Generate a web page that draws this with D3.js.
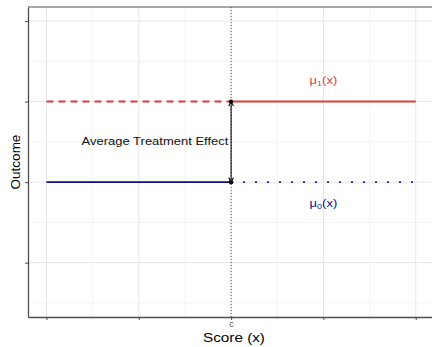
<!DOCTYPE html>
<html>
<head>
<meta charset="utf-8">
<script src="https://cdn.jsdelivr.net/npm/d3@7"></script>
<style>
  html, body { margin: 0; padding: 0; background: #fff; }
  svg { display: block; }
  text { font-family: "Liberation Sans", Arial, Helvetica, sans-serif; }
</style>
</head>
<body>
<svg id="chart" width="432" height="347"></svg>
<script>
// Regression discontinuity sketch: potential outcomes around the cutoff c
const scoreRange = [0, 1];
const cutoff = 0.5;
const scoreTicks = [0, 0.25, 0.5, 0.75, 1];
const scoreTickLabels = ["", "", "c", "", ""];
const scoreMinor = [0.125, 0.375, 0.625, 0.875];
const outcomeRange = [-0.5, 3];
const outcomeTicks = [0, 1, 2, 3];
const outcomeMinor = [-0.5, 0.5, 1.5, 2.5];
const mu1Level = 2;   // treated outcome
const mu0Level = 1;   // control outcome
const effectLabel = "Average Treatment Effect";

const W = 432, H = 347;
const panel = { left: 28, top: 7, right: 434.2, bottom: 317 };
const stretch = 1.13;

const pad = (d, f) => [d[0] - (d[1] - d[0]) * f, d[1] + (d[1] - d[0]) * f];
const x = d3.scaleLinear().domain(pad(scoreRange, 0.05)).range([panel.left, panel.right]);
const y = d3.scaleLinear().domain(pad(outcomeRange, 0.05)).range([panel.bottom, panel.top]);

const svg = d3.select("#chart");
const red = "#e03a3c", blue = "#0d0d86";

// grid
const grid = svg.append("g");
grid.selectAll(".vminor").data(scoreMinor).join("line")
  .attr("x1", d => x(d)).attr("x2", d => x(d)).attr("y1", panel.top).attr("y2", panel.bottom)
  .attr("stroke", "#f1f1f1").attr("stroke-width", 0.8);
grid.selectAll(".hminor").data(outcomeMinor).join("line")
  .attr("y1", d => y(d)).attr("y2", d => y(d)).attr("x1", panel.left).attr("x2", W)
  .attr("stroke", "#f1f1f1").attr("stroke-width", 0.8);
grid.selectAll(".vmajor").data(scoreTicks).join("line")
  .attr("x1", d => x(d)).attr("x2", d => x(d)).attr("y1", panel.top).attr("y2", panel.bottom)
  .attr("stroke", "#e6e6e6").attr("stroke-width", 1);
grid.selectAll(".hmajor").data(outcomeTicks).join("line")
  .attr("y1", d => y(d)).attr("y2", d => y(d)).attr("x1", panel.left).attr("x2", W)
  .attr("stroke", "#e6e6e6").attr("stroke-width", 1);

// top border
svg.append("line").attr("x1", panel.left).attr("x2", W).attr("y1", panel.top).attr("y2", panel.top)
  .attr("stroke", "#8a8a8a").attr("stroke-width", 1.3);

// axes
const xAxis = d3.axisBottom(x).tickValues(scoreTicks)
  .tickFormat((d, i) => scoreTickLabels[i]).tickSize(3).tickPadding(1).tickSizeOuter(0);
const gx = svg.append("g").attr("transform", `translate(0,${panel.bottom})`).call(xAxis);
gx.select(".domain").attr("stroke", "#4d4d4d").attr("stroke-width", 1.3);
gx.selectAll(".tick line").attr("stroke", "#4d4d4d");
gx.selectAll(".tick text").attr("fill", "#4d4d4d").attr("font-size", 9)
  .attr("font-family", "Liberation Sans, Arial, sans-serif");

const yAxis = d3.axisLeft(y).tickValues(outcomeTicks).tickFormat("").tickSize(3).tickSizeOuter(0);
const gy = svg.append("g").attr("transform", `translate(${panel.left},0)`).call(yAxis);
gy.select(".domain").attr("stroke", "#4d4d4d").attr("stroke-width", 1.3);
gy.selectAll(".tick line").attr("stroke", "#4d4d4d");

// cutoff
svg.append("line").attr("x1", x(cutoff)).attr("x2", x(cutoff))
  .attr("y1", panel.top).attr("y2", panel.bottom)
  .attr("stroke", "#555").attr("stroke-width", 1).attr("stroke-dasharray", "1,2");

const seg = (a, b, lvl) => [[a, lvl], [b, lvl]];
const line = d3.line().x(d => x(d[0])).y(d => y(d[1]));

// treated potential outcome
svg.append("path").attr("d", line(seg(scoreRange[0], cutoff, mu1Level)))
  .attr("stroke", red).attr("stroke-width", 2).attr("fill", "none").attr("stroke-dasharray", "7,5");
svg.append("path").attr("d", line(seg(cutoff, scoreRange[1], mu1Level)))
  .attr("stroke", red).attr("stroke-width", 2).attr("fill", "none");

// control potential outcome
svg.append("path").attr("d", line(seg(scoreRange[0], cutoff, mu0Level)))
  .attr("stroke", blue).attr("stroke-width", 1.6).attr("fill", "none");
svg.append("path").attr("d", line(seg(cutoff, scoreRange[1], mu0Level)))
  .attr("stroke", blue).attr("stroke-width", 1.8).attr("fill", "none")
  .attr("stroke-dasharray", "1.8,10.2");

// double-headed arrow for the effect
const ax = x(cutoff), yTop = y(mu1Level), yBot = y(mu0Level);
svg.append("line").attr("x1", ax).attr("x2", ax).attr("y1", yBot).attr("y2", yTop)
  .attr("stroke", "#111").attr("stroke-width", 1.1);
const head = 4.5, half = 2.4;
svg.append("path")
  .attr("d", `M${ax - half},${yTop + head} L${ax},${yTop} L${ax + half},${yTop + head}` +
             `M${ax - half},${yBot - head} L${ax},${yBot} L${ax + half},${yBot - head}`)
  .attr("fill", "none").attr("stroke", "#111").attr("stroke-width", 1.1);

svg.selectAll(".pt").data([mu1Level, mu0Level]).join("circle")
  .attr("cx", x(cutoff)).attr("cy", d => y(d)).attr("r", 2.2).attr("fill", "#000");

// labels
const label = (tx, ty, size, fill, rot) => svg.append("text")
  .attr("transform", `translate(${tx},${ty}) ${rot ? "rotate(-90)" : `scale(${stretch},1)`}`)
  .attr("text-anchor", "middle").attr("font-size", size).attr("fill", fill);

label(155, y((mu0Level + mu1Level) / 2) + 3.5, 11.5, "#111").text(effectLabel);

const m1 = label(x(0.75), y(mu1Level) - 17.5, 11.5, red);
m1.append("tspan").text("μ");
m1.append("tspan").attr("font-size", 8).attr("dy", 2).text("1");
m1.append("tspan").attr("dy", -2).text("(x)");

const m0 = label(x(0.75), y(mu0Level) + 25, 11.5, blue);
m0.append("tspan").text("μ");
m0.append("tspan").attr("font-size", 8).attr("dy", 2).text("0");
m0.append("tspan").attr("dy", -2).text("(x)");

label(234, 341.5, 13.5, "#000").text("Score (x)");
label(19.5, (panel.top + panel.bottom) / 2, 13.5, "#000", true).text("Outcome");
</script>
</body>
</html>
